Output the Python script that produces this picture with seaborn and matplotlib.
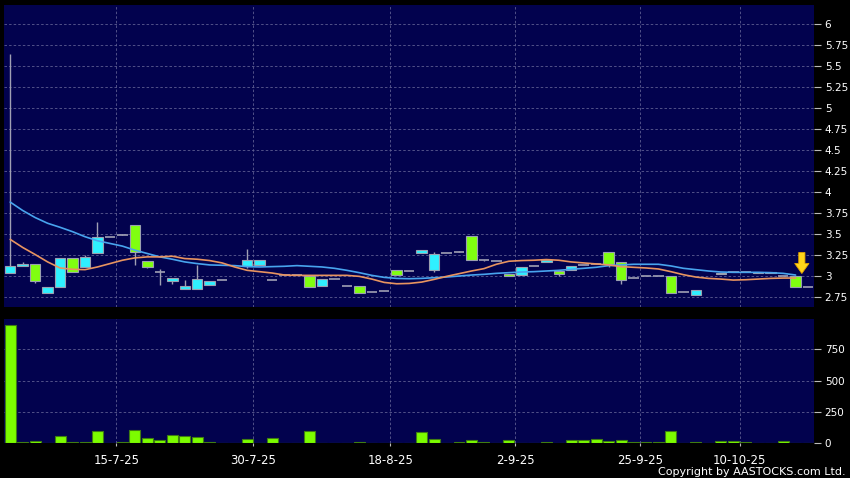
import numpy as np
import pandas as pd
import matplotlib
matplotlib.use('Agg')
import matplotlib.pyplot as plt
import seaborn as sns
from matplotlib.patches import FancyArrow

nan = np.nan

# daily candles (trading-day index 0..64)
opens = [3.04, 3.124, 3.148, 2.80, 2.872, 3.216, 3.112, 3.28, 3.47, 3.49,
         3.604, 3.184, 3.048, 2.944, 2.848, 2.848, 2.896, 2.948, nan, 3.116,
         3.128, 2.956, 3.01, 3.01, 3.0, 2.884, 2.96, 2.88, 2.884, 2.808,
         2.816, 3.076, 3.056, 3.28, 3.072, 3.28, 3.284, 3.476, 3.192, 3.18,
         3.028, 3.008, 3.124, 3.164, 3.064, 3.068, 3.132, 3.14, 3.292, 3.168,
         2.972, 3.0, 3.0, 3.0, 2.812, 2.776, nan, 3.028, 3.044, 3.044,
         3.04, 3.04, 3.0, 3.0, 2.864]
closes = [3.116, 3.148, 2.944, 2.87, 3.216, 3.044, 3.232, 3.468, 3.47, 3.49,
          3.292, 3.112, 3.048, 2.98, 2.88, 2.968, 2.944, 2.948, nan, 3.188,
          3.188, 2.956, 3.01, 3.01, 2.872, 2.96, 2.96, 2.88, 2.80, 2.808,
          2.816, 3.012, 3.056, 3.304, 3.268, 3.28, 3.284, 3.192, 3.192, 3.18,
          3.004, 3.108, 3.124, 3.196, 3.028, 3.124, 3.132, 3.14, 3.148, 2.956,
          2.972, 3.0, 3.0, 2.80, 2.812, 2.828, nan, 3.036, 3.044, 3.044,
          3.048, 3.048, 3.0, 2.872, 2.864]
highs = [5.64, 3.17, 3.148, 2.87, 3.216, 3.216, 3.25, 3.64, 3.47, 3.50,
         3.604, 3.184, 3.088, 2.98, 2.948, 3.128, 2.944, 2.948, nan, 3.32,
         3.188, 2.956, 3.01, 3.01, 3.0, 2.96, 2.96, 2.88, 2.884, 2.808,
         2.816, 3.076, 3.056, 3.304, 3.29, 3.28, 3.296, 3.476, 3.192, 3.18,
         3.028, 3.108, 3.124, 3.196, 3.064, 3.124, 3.132, 3.14, 3.292, 3.168,
         2.972, 3.0, 3.0, 3.0, 2.812, 2.828, nan, 3.036, 3.044, 3.044,
         3.048, 3.048, 3.0, 3.0, 2.864]
lows = [3.04, 3.124, 2.916, 2.80, 2.872, 3.044, 3.112, 3.28, 3.47, 3.49,
        3.13, 3.10, 2.896, 2.904, 2.848, 2.848, 2.896, 2.948, nan, 3.096,
        3.128, 2.956, 3.01, 3.01, 2.872, 2.884, 2.96, 2.88, 2.80, 2.808,
        2.816, 3.012, 3.056, 3.28, 3.048, 3.28, 3.284, 3.192, 3.18, 3.18,
        3.004, 3.008, 3.124, 3.164, 3.004, 3.068, 3.132, 3.14, 3.104, 2.908,
        2.972, 3.0, 3.0, 2.80, 2.812, 2.776, nan, 3.028, 3.044, 3.044,
        3.04, 3.04, 3.0, 2.872, 2.864]

# moving averages as drawn
ma_blue = [3.88, 3.78, 3.696, 3.628, 3.58, 3.528, 3.468, 3.42, 3.388, 3.356,
           3.308, 3.268, 3.228, 3.20, 3.168, 3.148, 3.132, 3.128, 3.124, 3.112,
           3.108, 3.112, 3.116, 3.124, 3.116, 3.108, 3.092, 3.068, 3.04, 3.008,
           2.984, 2.972, 2.968, 2.972, 2.98, 2.988, 3.0, 3.012, 3.02, 3.032,
           3.04, 3.048, 3.052, 3.06, 3.068, 3.08, 3.092, 3.104, 3.124, 3.132,
           3.14, 3.14, 3.14, 3.12, 3.092, 3.076, 3.06, 3.048, 3.044, 3.044,
           3.044, 3.04, 3.032, 3.012, nan]
ma_orange = [3.436, 3.34, 3.256, 3.168, 3.096, 3.08, 3.076, 3.108, 3.148, 3.188,
             3.216, 3.228, 3.228, 3.236, 3.208, 3.20, 3.184, 3.156, 3.108, 3.068,
             3.052, 3.036, 3.012, 3.008, 3.008, 3.008, 3.008, 3.008, 2.996, 2.964,
             2.924, 2.908, 2.912, 2.928, 2.96, 2.996, 3.028, 3.06, 3.088, 3.14,
             3.176, 3.184, 3.188, 3.196, 3.188, 3.168, 3.156, 3.144, 3.132, 3.112,
             3.104, 3.096, 3.084, 3.052, 3.016, 2.988, 2.972, 2.964, 2.952, 2.956,
             2.964, 2.972, 2.976, 2.976, nan]

volume = [944, 13, 16, 0, 61, 11, 11, 96, 3, 8,
          104, 45, 29, 66, 58, 48, 11, 1, 0, 35,
          0, 45, 0, 0, 98, 1, 0, 1, 8, 1,
          0, 0, 0, 90, 32, 0, 11, 27, 11, 0,
          27, 0, 0, 11, 5, 24, 24, 35, 19, 24,
          8, 11, 11, 101, 0, 11, 0, 19, 21, 8,
          1, 1, 16, 0, 0]

date_ticks = [8.5, 19.5, 30.5, 40.5, 50.5, 58.5]
date_labels = ['15-7-25', '30-7-25', '18-8-25', '2-9-25', '25-9-25', '10-10-25']
price_ticks = [2.75, 3, 3.25, 3.5, 3.75, 4, 4.25, 4.5, 4.75, 5, 5.25, 5.5, 5.75, 6]
price_labels = ['2.75', '3', '3.25', '3.5', '3.75', '4', '4.25', '4.5', '4.75',
                '5', '5.25', '5.5', '5.75', '6']
vol_ticks = [0, 250, 500, 750]
arrow_top, arrow_tip = 3.28, 3.03

df = pd.DataFrame({'day': np.arange(len(opens)), 'open': opens, 'close': closes,
                   'high': highs, 'low': lows, 'ma_blue': ma_blue,
                   'ma_orange': ma_orange, 'volume': volume})

navy = '#02024e'
grid_col = '#5e5e92'
sns.set_theme(style='dark', rc={'axes.facecolor': navy, 'figure.facecolor': 'black',
                                'grid.color': grid_col, 'grid.linestyle': (0, (3.0, 2.5)),
                                'grid.linewidth': 0.6})
plt.rcParams['font.family'] = ['DejaVu Sans']

fig = plt.figure(figsize=(8.5, 4.78), dpi=100, facecolor='black')
ax1 = fig.add_axes([4 / 850, 1 - 306.7 / 478, 810.3 / 850, 301.7 / 478])
ax2 = fig.add_axes([4 / 850, 1 - 443.3 / 478, 810.3 / 850, 124 / 478])

# ---- price panel
x = df['day'].values
o, c, h, l = df['open'].values, df['close'].values, df['high'].values, df['low'].values
valid = ~np.isnan(o)
up = valid & (c > o)
down = valid & (c < o)
flat = valid & (c == o)
wick_col = '#a0a0b4'

ax1.vlines(x[valid], l[valid], h[valid], color=wick_col, lw=1.0, zorder=2)
ax1.bar(x[up], (c - o)[up], bottom=o[up], width=0.84, color='#2ff0ff',
        edgecolor='#9aa0b0', linewidth=0.8, zorder=3)
ax1.bar(x[down], (o - c)[down], bottom=c[down], width=0.84, color='#80ff10',
        edgecolor='#9aa0b0', linewidth=0.8, zorder=3)
ax1.hlines(c[flat], x[flat] - 0.42, x[flat] + 0.42, color=wick_col, lw=1.2, zorder=3)

sns.lineplot(data=df, x='day', y='ma_blue', ax=ax1, color='#48a4ee', lw=1.2, zorder=4)
sns.lineplot(data=df, x='day', y='ma_orange', ax=ax1, color='#e89460', lw=1.2, zorder=4)

last = len(df) - 1
ax1.add_patch(FancyArrow(last - 0.5, arrow_top, 0, arrow_tip - arrow_top, width=0.5,
                         head_width=1.15, head_length=0.12, length_includes_head=True,
                         facecolor='#ffd51a', edgecolor='#e0a000', linewidth=0.6, zorder=6))

ax1.set_xlim(-0.5, 64.5)
ax1.set_ylim(2.635, 6.226)
ax1.set_yticks(price_ticks)
ax1.set_yticklabels(price_labels)
ax1.set_xticks(date_ticks)
ax1.set_xticklabels([])
ax1.yaxis.tick_right()

# ---- volume panel
sns.barplot(data=df, x='day', y='volume', ax=ax2, color='#7cfc00', saturation=1,
            width=0.88, edgecolor='#3f7d12', linewidth=0.8, zorder=3)
ax2.set_xlim(-0.5, 64.5)
ax2.set_ylim(0, 990)
ax2.set_yticks(vol_ticks)
ax2.set_yticklabels([str(v) for v in vol_ticks])
ax2.set_xticks(date_ticks)
ax2.set_xticklabels(date_labels)
ax2.yaxis.tick_right()

for ax in (ax1, ax2):
    ax.set_xlabel('')
    ax.set_ylabel('')
    ax.grid(True, axis='both', zorder=0)
    ax.set_axisbelow(True)
    for s in ax.spines.values():
        s.set_visible(False)
    ax.tick_params(axis='y', which='both', right=True, left=False, length=5, width=0.8,
                   color='#bbbbbb', labelcolor='white', labelsize=7.5, pad=2.5)
ax1.tick_params(axis='x', bottom=False, length=0)
ax2.tick_params(axis='x', bottom=True, length=2.5, width=0.8, color='#bbbbbb',
                labelcolor='white', labelsize=8.5, pad=5)

fig.text(0.9953, 0.0132, 'Copyright by AASTOCKS.com Ltd.', ha='right', va='center',
         color='white', fontsize=8, family=['Liberation Sans Narrow', 'DejaVu Sans'])

fig.savefig('out.png', dpi=100, facecolor='black')
